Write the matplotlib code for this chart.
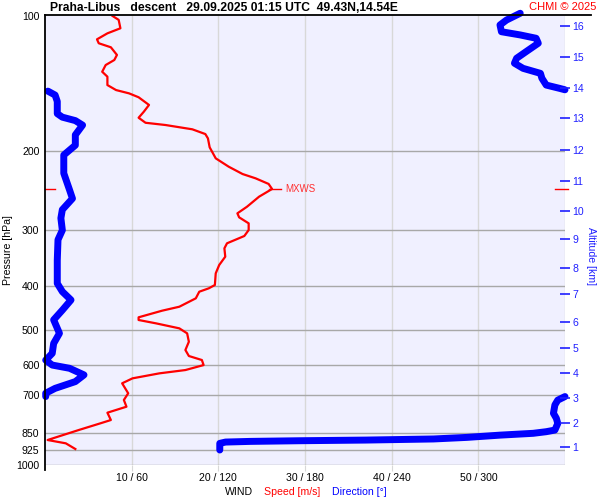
import matplotlib
matplotlib.use("Agg")
import matplotlib.pyplot as plt
from matplotlib.lines import Line2D
from matplotlib.ticker import NullLocator

plt.rcParams["font.family"] = ["Liberation Sans", "DejaVu Sans"]

# wind speed profile (hPa, m/s)
speed_p = [100, 102, 106.5, 109.3, 112.7, 115, 117.4, 122.1, 125.3, 128.6,
           133.1, 136.5, 142.5, 146.2, 148.7, 151.7, 157.8, 163.4, 168.5, 172.9,
           174.9, 178.8, 183.2, 187.3, 196.1, 207.5, 216.6, 224.9, 229.9, 236.6,
           242.8, 252.6, 266, 275.1, 280.8, 289.6, 299.7, 309, 320.8, 329.2,
           343.6, 358.6, 374.2, 397.3, 404.1, 411.2, 425.4, 444.1, 453.3, 468.9,
           475.4, 483.6, 496.2, 509.1, 531.5, 554.5, 571.8, 583.7, 599, 614.5,
           625, 641.2, 657.7, 692.3, 716.5, 741.6, 764.7, 794, 807.5, 835.7,
           879.7, 894.8, 921.2]
speed_v = [7.8, 8.5, 8.7, 7.2, 6.0, 6.2, 7.6, 8.3, 8.0, 7.0,
           6.6, 7.2, 7.2, 8.2, 9.7, 10.8, 12.0, 11.4, 10.8, 11.6,
           13.9, 17.0, 18.5, 18.8, 19.0, 19.7, 21.2, 22.8, 24.3, 25.8,
           26.2, 24.7, 23.3, 22.2, 22.4, 23.5, 23.5, 23.0, 21.0, 20.7,
           20.8, 20.1, 19.7, 19.6, 18.9, 17.8, 17.4, 15.5, 13.5, 10.8,
           10.8, 12.8, 15.5, 16.4, 16.6, 16.2, 16.6, 18.1, 18.3, 16.2,
           13.2, 10.1, 8.9, 9.6, 9.1, 9.4, 7.2, 7.6, 6.4, 3.9,
           0.3, 2.4, 3.5]

# wind direction profile, split where it wraps 360 -> 0 (hPa, deg)
dir_low_p = [926, 911, 895, 889, 886, 883, 880, 875, 868, 858,
             850, 843, 836, 808, 787, 767, 735, 717, 704]
dir_low_v = [121, 121, 121, 125, 142, 176, 222, 269, 292, 315,
             338, 347, 353, 355, 354, 352, 353, 355, 360]
dir_mid_p = [704, 692, 675, 652, 630, 609, 599, 584, 564, 536,
             509, 475, 452, 429, 411, 394, 350, 315, 300, 282,
             270, 255, 244, 224, 204, 194, 184, 175, 171, 168,
             165, 155, 150, 147]
dir_mid_v = [0.5, 0.5, 7, 21, 27, 17, 5, 0.5, 5, 6,
             10, 6, 12, 18, 12, 8.5, 8.5, 9, 12, 11,
             12, 19, 17, 13, 13, 21, 21, 26, 21, 12,
             8.5, 8.5, 7, 2]
dir_top_p = [146, 145, 142.5, 137.6, 134.2, 130.8, 127.4, 124.2, 120.1, 115,
             112.1, 110.2, 108.4, 104.7, 102.1, 98.6]
dir_top_v = [360, 356.5, 347, 344, 343, 331, 325, 326.5, 333, 341.5,
             340, 329, 316, 315, 319.5, 329]

mxws_p, mxws_v = 242.8, 26.2

p_levels = [100, 200, 300, 400, 500, 600, 700, 850, 925, 1000]
p_grid = [200, 300, 400, 500, 600, 700, 850, 925, 1000]
speed_ticks = [10, 20, 30, 40, 50]

# altitude ticks on right axis (km at pressure)
alt_km = list(range(1, 17))
alt_p = [912.1, 806.1, 709.1, 624.1, 548.8, 480.3, 416.1, 364.1, 313.8, 271.9,
         233.1, 198.8, 168.7, 144.6, 123.4, 105.3]

RED = "#ff0000"
BLUE = "#0000ff"
ALT_BLUE = "#2020ff"
FS = 7.6

fig = plt.figure(figsize=(6, 5), dpi=100)
ax = fig.add_axes([45 / 600, 35 / 500, 520 / 600, 449 / 500])
ax.set_facecolor("#f0f0ff")
ax.set_yscale("log")
ax.set_ylim(1000, 100)
ax.set_xlim(0, 60)

for s in [10, 20, 30, 40, 50, 60]:
    ax.axvline(s, color="#d8d8d8", lw=1, zorder=1)
for p in p_grid:
    ax.axhline(p, color="#a8a8a8", lw=1, zorder=1)

ax.plot(speed_v, speed_p, color=RED, lw=1.6, zorder=3)
for dp, dv in [(dir_low_p, dir_low_v), (dir_mid_p, dir_mid_v), (dir_top_p, dir_top_v)]:
    ax.plot([d / 6 for d in dv], dp, color=BLUE, lw=5, solid_capstyle="round",
            zorder=2, clip_on=False)

# max wind marker
ax.plot([mxws_v - 0.3, mxws_v + 1.0], [mxws_p, mxws_p], color=RED, lw=1, zorder=3)
ax.text(mxws_v + 1.5, mxws_p, "MXWS", color="#ff3030", fontsize=7, va="center")
ax.plot([0, 1.1], [mxws_p, mxws_p], color=RED, lw=1, clip_on=False)
ax.plot([58.9, 60.3], [mxws_p, mxws_p], color=RED, lw=1, clip_on=False)

for sp in ax.spines.values():
    sp.set_visible(False)

ax.yaxis.set_minor_locator(NullLocator())
ax.set_yticks(p_levels)
ax.set_yticklabels([str(p) for p in p_levels])
ax.tick_params(axis="y", length=0, pad=4, labelsize=FS)
ax.set_xticks(speed_ticks)
ax.set_xticklabels([f"{s} / {s * 6}" for s in speed_ticks])
ax.tick_params(axis="x", length=4, color="#d8d8d8", pad=2, labelsize=FS)

ax2 = ax.twinx()
ax2.set_yscale("log")
ax2.set_ylim(1000, 100)
ax2.yaxis.set_minor_locator(NullLocator())
ax2.set_yticks(alt_p)
ax2.set_yticklabels([str(k) for k in alt_km])
ax2.tick_params(axis="y", direction="inout", length=7, width=1.2, color=ALT_BLUE,
                labelcolor=ALT_BLUE, pad=2, labelsize=FS)
for sp in ax2.spines.values():
    sp.set_visible(False)

# axis titles placed in figure pixels
fig.text(8 / 600, 1 - 250 / 500, "Pressure [hPa]", fontsize=FS, rotation=90,
         ha="center", va="center")
fig.text(591 / 600, 1 - 256 / 500, "Altitude [km]", color=ALT_BLUE, fontsize=FS,
         rotation=270, ha="center", va="center")

# frame lines in figure pixels
fig.add_artist(Line2D([45 / 600, 591 / 600], [1 - 15 / 500, 1 - 15 / 500],
                      color="black", lw=1.3))
fig.add_artist(Line2D([45 / 600, 45 / 600], [1 - 15 / 500, 1 - 470 / 500],
                      color="black", lw=1.3))

fig.text(50 / 600, 1 - 8 / 500, "Praha-Libus   descent   29.09.2025 01:15 UTC  49.43N,14.54E",
         fontsize=8.7, fontweight="bold", va="center", ha="left")
fig.text(596 / 600, 1 - 7 / 500, "CHMI \u00a9 2025", color=RED, fontsize=8,
         va="center", ha="right")

fig.text(225 / 600, 1 - 492 / 500, "WIND", fontsize=FS, va="center")
fig.text(264 / 600, 1 - 492 / 500, "Speed [m/s]", color=RED, fontsize=FS, va="center")
fig.text(332 / 600, 1 - 492 / 500, "Direction [\u00b0]", color=BLUE, fontsize=FS, va="center")

fig.savefig("out.png", dpi=100, facecolor="white")
